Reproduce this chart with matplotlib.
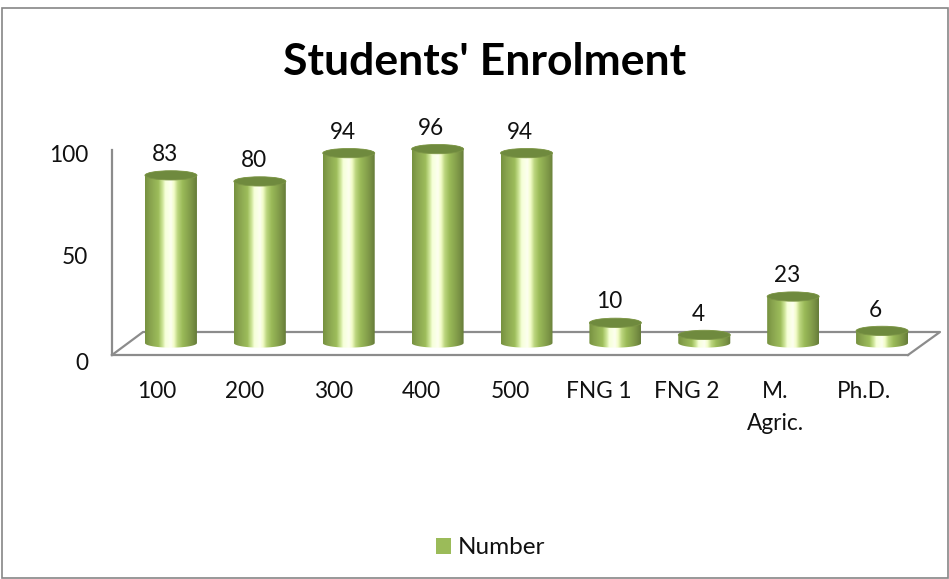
import numpy as np
import matplotlib
matplotlib.use("Agg")
import matplotlib.pyplot as plt
from matplotlib.colors import LinearSegmentedColormap
from matplotlib.patches import Ellipse, Patch, PathPatch, Rectangle
from matplotlib.lines import Line2D
from matplotlib.path import Path
from matplotlib.transforms import ScaledTranslation

plt.rcParams['font.family'] = ['Lato', 'DejaVu Sans']

categories = ['100', '200', '300', '400', '500', 'FNG 1', 'FNG 2', 'M.\nAgric.', 'Ph.D.']
values = [83, 80, 94, 96, 94, 10, 4, 23, 6]
value_ticks = [0, 50, 100]
series_name = 'Number'
title = "Students' Enrolment"

W, H = 949, 579
fig = plt.figure(figsize=(W / 100, H / 100), dpi=100, facecolor='white')

def axes_px(x0, x1, ytop, ybot, **kw):
    return fig.add_axes([x0 / W, 1 - ybot / H, (x1 - x0) / W, (ybot - ytop) / H], **kw)

GRAY = '#8c8c8c'
TEXT = '#111111'
FS = 16.3

# frame
fig.add_artist(Rectangle((1.5 / W, 1 - 578 / H), 946 / W, 570 / H, transform=fig.transFigure,
                         fill=False, ec='#868686', lw=1.2))
fig.text(485 / W, 1 - 62 / H, title, ha='center', va='center', fontsize=32,
         fontweight='bold', color='#000000')

# front axes: the wall + floor front edge carrying the tick labels
wall = axes_px(112, 908, 150, 355)
wall.set_xlim(-0.5, len(categories) - 0.5)
wall.set_ylim(0, 100)
wall.patch.set_visible(False)
for s in ('top', 'right'):
    wall.spines[s].set_visible(False)
for s in ('left', 'bottom'):
    wall.spines[s].set_color(GRAY)
    wall.spines[s].set_linewidth(1.6)
wall.set_yticks(value_ticks)
wall.set_yticklabels([str(v) for v in value_ticks], fontsize=FS, color=TEXT)
wall.set_xticks(range(len(categories)))
wall.set_xticklabels(categories, fontsize=FS, color=TEXT, linespacing=1.6, va='top')
wall.tick_params(axis='x', length=0, pad=19)
wall.tick_params(axis='y', length=0, pad=17)
for lab, dy in zip(wall.get_yticklabels(), (-6, -3, -3)):
    lab.set_transform(lab.get_transform() + ScaledTranslation(0, dy / 100, fig.dpi_scale_trans))

# floor outline
fig.add_artist(Line2D(np.array([112, 143, 940, 908]) / W, 1 - np.array([355, 332, 332, 355]) / H,
                      transform=fig.transFigure, color=GRAY, lw=1.6, zorder=1))

# bars
ax = axes_px(126.5, 926.5, 141, 343)
ax.set_xlim(-0.5, len(categories) - 0.5)
ax.set_ylim(0, 100)
ax.axis('off')
ax.patch.set_visible(False)
ax.set_zorder(5)

cmap = LinearSegmentedColormap.from_list('cyl', [
    (0.00, '#76913f'), (0.10, '#88a34e'), (0.26, '#9dbd5b'), (0.34, '#cfe69a'),
    (0.39, '#f6ffd8'), (0.50, '#fdfff0'), (0.56, '#f2fcc8'), (0.63, '#bcd67f'),
    (0.72, '#9bbb59'), (0.90, '#7c9546'), (1.00, '#667c39')])
grad = np.linspace(0, 1, 256).reshape(1, -1)

bar_w = 0.585
ry = 2.3  # ellipse half height, data units
t_low = np.linspace(np.pi, 2 * np.pi, 40)
t_up = np.linspace(0, np.pi, 40)
for i, v in enumerate(values):
    xs = np.r_[i + bar_w / 2 * np.cos(t_low), i + bar_w / 2 * np.cos(t_up)]
    ys = np.r_[ry * np.sin(t_low), v + ry * np.sin(t_up)]
    verts = np.column_stack([xs, ys])
    clip = PathPatch(Path(np.vstack([verts, verts[0]]), closed=True), transform=ax.transData,
                     fc='none', ec='none', clip_on=False)
    ax.add_patch(clip)
    im = ax.imshow(grad, extent=(i - bar_w / 2, i + bar_w / 2, -ry, v + ry), aspect='auto',
                   cmap=cmap, vmin=0, vmax=1, interpolation='bilinear', zorder=3)
    im.set_clip_path(clip)
    im.set_clip_box(fig.bbox)
    ax.add_patch(Ellipse((i, v), bar_w, 2 * ry, fc='#6f8a3e', ec='#7d9647', lw=0.6, zorder=4,
                         clip_on=False))
    ax.annotate(str(v), (i, v), xytext=(-4.5, 15), textcoords='offset points', ha='center',
                va='center', fontsize=FS, color=TEXT, annotation_clip=False, zorder=6)
ax.set_xlim(-0.5, len(categories) - 0.5)
ax.set_ylim(0, 100)

handle = Patch(fc='#9bbb59', ec='none', label=series_name)
fig.legend(handles=[handle], loc='center', bbox_to_anchor=(490.5 / W, 1 - 548 / H), frameon=False,
           fontsize=17.5, handlelength=0.62, handleheight=0.62, handletextpad=0.3, labelcolor=TEXT)

fig.savefig('out.png', dpi=100)
